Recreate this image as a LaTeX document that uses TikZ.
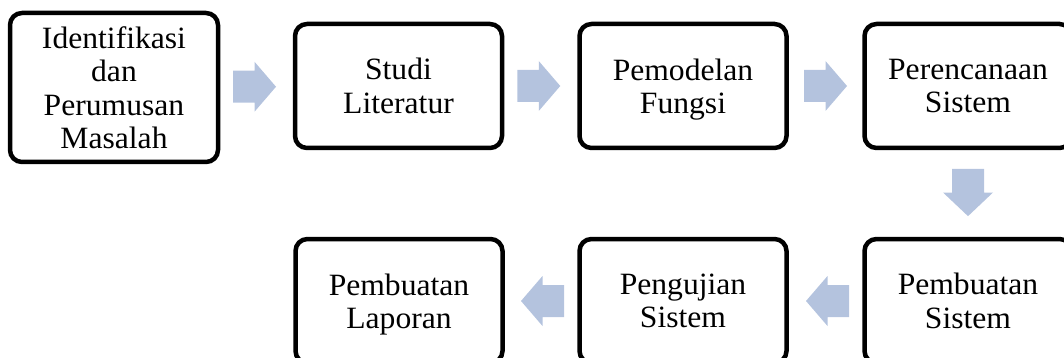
\documentclass[tikz,border=0pt]{standalone}
\usepackage{fontspec}
\setmainfont[FakeStretch=1.02]{Liberation Serif}
\usetikzlibrary{calc}
\definecolor{arrowblue}{RGB}{180,195,222}
\tikzset{
  stepbox/.style={draw=black, line width=4.5pt, rounded corners=12pt, fill=white,
    minimum width=207pt, minimum height=124pt, inner sep=0pt, align=center,
    font=\fontsize{31}{33.5}\selectfont},
  barrow/.pic={\fill[arrowblue] (-21.5,-16) -- (0,-16) -- (0,-25) -- (21.5,0)
     -- (0,25) -- (0,16) -- (-21.5,16) -- cycle;}
}
\begin{document}
\begin{tikzpicture}[x=1pt, y=-1pt]
\useasboundingbox (0,0) rectangle (1064,358);
\node[stepbox, minimum width=208pt, minimum height=149pt] (b1) at (114,87.5) {Identifikasi\\dan\\Perumusan\\Masalah};
\node[stepbox] (b2) at (398.5,86) {Studi\\Literatur};
\node[stepbox] (b3) at (683,86) {Pemodelan\\\smash{Fungsi}};
\node[stepbox] (b4) at (968,86) {Perencanaan\\Sistem};
\node[stepbox] (b5) at (968,301) {Pembuatan\\Sistem};
\node[stepbox] (b6) at (683,301) {Pengujian\\Sistem};
\node[stepbox] (b7) at (399,301) {Pembuatan\\\smash{Laporan}};
\coordinate (m1) at ($(b1.east)!0.5!(b2.west)+(-2,0)$);
\coordinate (m2) at ($(b2.east)!0.5!(b3.west)+(-2,0)$);
\coordinate (m3) at ($(b3.east)!0.5!(b4.west)$);
\coordinate (m4) at ($(b4.south)!0.5!(b5.north)+(0,-1)$);
\coordinate (m5) at ($(b5.west)!0.5!(b6.east)+(2,0)$);
\coordinate (m6) at ($(b6.west)!0.5!(b7.east)+(1.5,0)$);
\pic at (m1) {barrow};
\pic at (m2) {barrow};
\pic at (m3) {barrow};
\pic[rotate=-90, xscale=1.1] at (m4) {barrow};
\pic[rotate=180] at (m5) {barrow};
\pic[rotate=180] at (m6) {barrow};
\end{tikzpicture}
\end{document}
